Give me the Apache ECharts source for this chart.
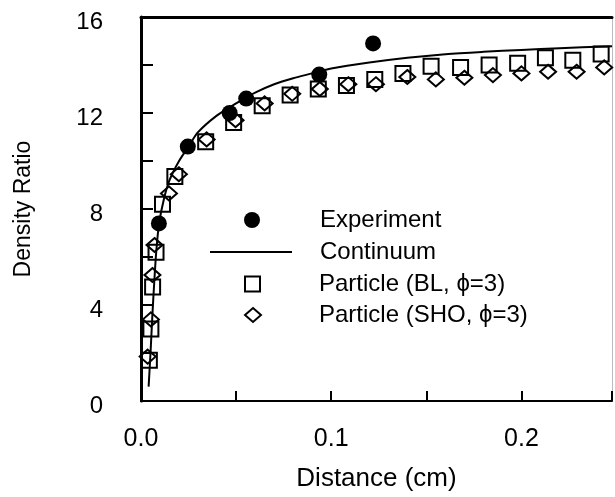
<!DOCTYPE html>
<html>
<head>
    <meta charset="utf-8">
    <title>Density Ratio</title>
    <script src="https://cdn.jsdelivr.net/npm/echarts@6/dist/echarts.min.js"></script>
    <style>
        html, body { margin: 0; padding: 0; background: #fff; }
        #chart1 { width: 615px; height: 497px; }
    </style>
</head>
<body>
<div id="chart1"></div>
<script type="text/javascript">
    // data: [distance (cm), density ratio]
    var experiment = [
        [0.0094, 7.4], [0.0246, 10.6], [0.0466, 12.0], [0.0553, 12.6],
        [0.0937, 13.6], [0.122, 14.9]
    ];
    var continuum = [
        [0.004, 0.6], [0.005, 2.0], [0.006, 3.6], [0.007, 5.0], [0.008, 6.2],
        [0.0095, 7.4], [0.012, 8.4], [0.015, 9.2], [0.02, 10.0], [0.025, 10.6],
        [0.03, 11.2], [0.04, 11.9], [0.05, 12.4], [0.06, 12.85], [0.07, 13.2],
        [0.08, 13.45], [0.09, 13.65], [0.1, 13.85], [0.12, 14.1], [0.14, 14.3],
        [0.16, 14.45], [0.18, 14.55], [0.2, 14.63], [0.22, 14.7], [0.2476, 14.78]
    ];
    var particleBL = [
        [0.0044, 1.7], [0.0052, 3.0], [0.0061, 4.75], [0.0079, 6.2], [0.0113, 8.2],
        [0.0178, 9.35], [0.034, 10.8], [0.0487, 11.6], [0.0637, 12.3], [0.0784, 12.75],
        [0.0932, 13.0], [0.108, 13.15], [0.1229, 13.4], [0.1377, 13.65], [0.1525, 13.95],
        [0.168, 13.9], [0.183, 14.0], [0.198, 14.07], [0.2126, 14.3], [0.227, 14.2],
        [0.2419, 14.46]
    ];
    var particleSHO = [
        [0.0035, 1.85], [0.0052, 3.4], [0.006, 5.25], [0.0071, 6.5], [0.0147, 8.65],
        [0.0199, 9.45], [0.0345, 10.9], [0.0497, 11.7], [0.065, 12.4], [0.0795, 12.8],
        [0.094, 13.0], [0.109, 13.2], [0.1235, 13.2], [0.14, 13.5], [0.155, 13.4],
        [0.170, 13.47], [0.185, 13.58], [0.2, 13.65], [0.214, 13.72], [0.229, 13.72],
        [0.2435, 13.9]
    ];
    var seriesNames = ['Experiment', 'Continuum', 'Particle (BL, \u03d5=3)', 'Particle (SHO, \u03d5=3)'];
    var xTickLabels = ['0.0', '0.1', '0.2'];
    var yTickLabels = ['0', '4', '8', '12', '16'];

    var font = '"Liberation Sans", Arial, sans-serif';
    var myChart1 = echarts.init(document.getElementById('chart1'));

    // one legend per row so the line key can be long while the symbol keys stay small
    function legendRow(name, left, top, w, h, pad, icon) {
        return {
            orient: 'vertical',
            left: left,
            top: top,
            padding: 0,
            itemWidth: w,
            itemHeight: h,
            data: [icon ? { name: name, icon: icon } : name],
            textStyle: { fontFamily: font, fontSize: 24, lineHeight: 24, color: '#000', padding: [0, 0, 0, pad] }
        };
    }

    myChart1.setOption({
        backgroundColor: '#fff',
        animation: false,
        textStyle: { fontFamily: font, color: '#000' },
        grid: { left: 141, top: 17, right: 1, bottom: 96 },
        legend: [
            legendRow(seriesNames[0], 244, 208, 16, 16, 55),
            legendRow(seriesNames[1], 210, 240, 82, 2, 23, 'rect'),
            legendRow(seriesNames[2], 244, 272, 15, 15, 54),
            legendRow(seriesNames[3], 244, 303, 16, 14, 53)
        ],
        xAxis: [{
            type: 'value',
            min: 0,
            max: 0.2476,
            interval: 0.05,
            name: 'Distance (cm)',
            nameLocation: 'middle',
            nameGap: 65,
            nameTextStyle: { fontFamily: font, fontSize: 26, color: '#000' },
            axisLine: { onZero: false, lineStyle: { color: '#000', width: 2 } },
            axisTick: { inside: true, length: 10, lineStyle: { color: '#000', width: 2 } },
            axisLabel: {
                margin: 26, fontSize: 25, color: '#000', fontFamily: font,
                formatter: function (v) {
                    var i = Math.round(v * 100);
                    return i % 10 === 0 ? xTickLabels[i / 10] : '';
                }
            },
            splitLine: { show: false }
        }, {
            type: 'value',
            position: 'top',
            min: 0,
            max: 0.2476,
            axisLine: { show: true, onZero: false, lineStyle: { color: '#000', width: 3 } },
            axisTick: { show: false },
            axisLabel: { show: false },
            splitLine: { show: false }
        }],
        yAxis: [{
            type: 'value',
            min: 0,
            max: 16,
            interval: 2,
            name: 'Density Ratio',
            nameLocation: 'middle',
            nameGap: 106,
            nameTextStyle: { fontFamily: font, fontSize: 23, color: '#000' },
            axisLine: { show: true, onZero: false, lineStyle: { color: '#000', width: 3 } },
            axisTick: { inside: true, length: 12, lineStyle: { color: '#000', width: 2 } },
            axisLabel: {
                margin: 38, color: '#000', fontFamily: font,
                formatter: function (v) {
                    return v % 4 === 0 ? '{t|' + yTickLabels[v / 4] + '}' : '';
                },
                rich: { t: { fontFamily: font, fontSize: 24, color: '#000', padding: [10, 0, 0, 0] } }
            },
            splitLine: { show: false }
        }, {
            type: 'value',
            position: 'right',
            min: 0,
            max: 16,
            axisLine: { show: true, onZero: false, lineStyle: { color: '#bbb', width: 1 } },
            axisTick: { show: false },
            axisLabel: { show: false },
            splitLine: { show: false }
        }],
        series: [
            {
                name: seriesNames[0],
                type: 'scatter',
                data: experiment,
                symbol: 'circle',
                symbolSize: 16,
                itemStyle: { color: '#000', opacity: 1 },
                z: 4
            },
            {
                name: seriesNames[1],
                type: 'line',
                data: continuum,
                smooth: 0.3,
                showSymbol: false,
                symbol: 'none',
                lineStyle: { color: '#000', width: 2 },
                itemStyle: { color: '#000' },
                z: 3
            },
            {
                name: seriesNames[2],
                type: 'scatter',
                data: particleBL,
                symbol: 'rect',
                symbolSize: 15,
                itemStyle: { color: 'rgba(255,255,255,0)', borderColor: '#000', borderWidth: 2, opacity: 1 },
                z: 2
            },
            {
                name: seriesNames[3],
                type: 'scatter',
                data: particleSHO,
                symbol: 'diamond',
                symbolSize: [16, 14],
                itemStyle: { color: 'rgba(255,255,255,0)', borderColor: '#000', borderWidth: 2, opacity: 1 },
                z: 2
            }
        ]
    });
</script>
</body>
</html>
